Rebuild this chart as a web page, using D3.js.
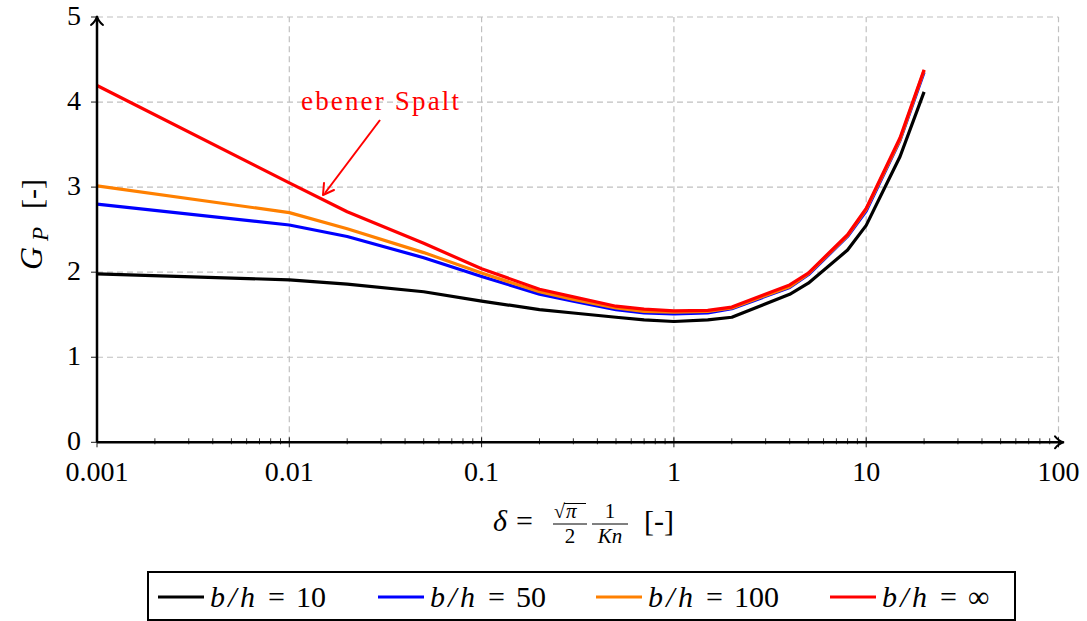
<!DOCTYPE html>
<html>
<head>
<meta charset="utf-8">
<script src="https://cdn.jsdelivr.net/npm/d3@7"></script>
<style>
  body { margin: 0; background: #fff; }
</style>
</head>
<body>
<svg id="chart"></svg>
<script>
// delta values (x) shared by all series
const deltas = [0.001, 0.01, 0.02, 0.05, 0.1, 0.2, 0.3, 0.5, 0.7, 1, 1.5, 2, 4, 5, 8, 10, 15, 20];
const gpB10 = [1.98, 1.91, 1.86, 1.77, 1.66, 1.56, 1.52, 1.47, 1.44, 1.42, 1.44, 1.47, 1.74, 1.87, 2.26, 2.55, 3.36, 4.12];
const gpB50 = [2.80, 2.555, 2.42, 2.17, 1.95, 1.74, 1.66, 1.56, 1.52, 1.51, 1.52, 1.57, 1.82, 1.97, 2.42, 2.72, 3.55, 4.35];
const gpB100 = [3.015, 2.70, 2.51, 2.23, 1.99, 1.77, 1.68, 1.58, 1.54, 1.53, 1.54, 1.58, 1.83, 1.98, 2.43, 2.74, 3.56, 4.37];
const gpInf = [4.195, 3.05, 2.71, 2.34, 2.04, 1.80, 1.71, 1.60, 1.565, 1.545, 1.55, 1.59, 1.85, 1.99, 2.44, 2.75, 3.58, 4.38];

const seriesNames = ["10", "50", "100", "\u221E"];
const seriesColors = ["#000000", "#0000ff", "#ff8000", "#ff0000"];
const seriesValues = [gpB10, gpB50, gpB100, gpInf];

const xTicks = [0.001, 0.01, 0.1, 1, 10, 100];
const xTickLabels = ["0.001", "0.01", "0.1", "1", "10", "100"];
const yTicks = [0, 1, 2, 3, 4, 5];

const width = 1087, height = 621;
const serif = "'Liberation Serif', 'Times New Roman', 'DejaVu Serif', serif";
const svg = d3.select("#chart").attr("width", width).attr("height", height)
    .attr("font-family", serif);

const x = d3.scaleLog().domain([0.001, 100]).range([97, 1058.5]);
const y = d3.scaleLinear().domain([0, 5]).range([442.3, 17]);

// grid
const grid = svg.append("g").attr("stroke", "#c0c0c0").attr("stroke-width", 1.2)
    .attr("stroke-dasharray", "6,4");
grid.selectAll(".gx").data(xTicks.slice(1)).join("line")
    .attr("x1", d => x(d)).attr("x2", d => x(d))
    .attr("y1", y(0)).attr("y2", y(5));
grid.selectAll(".gy").data(yTicks.slice(1)).join("line")
    .attr("x1", x(0.001)).attr("x2", x(100))
    .attr("y1", d => y(d)).attr("y2", d => y(d));

// minor ticks on x axis
const minor = [];
for (let e = -3; e < 2; e++) for (let m = 2; m < 10; m++) minor.push(m * Math.pow(10, e));
svg.append("g").selectAll("line").data(minor).join("line")
    .attr("x1", d => x(d)).attr("x2", d => x(d))
    .attr("y1", y(0) - 4).attr("y2", y(0) + 2)
    .attr("stroke", "#000").attr("stroke-width", 0.8);

// major ticks
svg.append("g").selectAll("line").data(xTicks).join("line")
    .attr("x1", d => x(d)).attr("x2", d => x(d))
    .attr("y1", y(0) - 5).attr("y2", y(0) + 5)
    .attr("stroke", "#000").attr("stroke-width", 0.9);
svg.append("g").selectAll("line").data(yTicks).join("line")
    .attr("x1", x(0.001) - 6).attr("x2", x(0.001))
    .attr("y1", d => y(d)).attr("y2", d => y(d))
    .attr("stroke", "#000").attr("stroke-width", 0.9);

// tick labels
svg.append("g").selectAll("text").data(xTicks).join("text")
    .attr("x", d => x(d)).attr("y", 481)
    .attr("text-anchor", "middle").attr("font-size", 28)
    .text((d, i) => xTickLabels[i]);
svg.append("g").selectAll("text").data(yTicks).join("text")
    .attr("x", 81).attr("y", d => y(d) + 8)
    .attr("text-anchor", "end").attr("font-size", 28)
    .text(d => d);

// data lines
const line = d3.line()
    .x((d, i) => x(deltas[i]))
    .y(d => y(d));
svg.append("g").selectAll("path").data(seriesValues).join("path")
    .attr("d", line)
    .attr("fill", "none")
    .attr("stroke", (d, i) => seriesColors[i])
    .attr("stroke-width", 3.2)
    .attr("stroke-linejoin", "round");

// axes with arrows
const axisG = svg.append("g").attr("stroke", "#000").attr("fill", "none");
axisG.append("line").attr("x1", x(0.001)).attr("x2", 1062)
    .attr("y1", y(0)).attr("y2", y(0)).attr("stroke-width", 2.5);
axisG.append("line").attr("x1", x(0.001)).attr("x2", x(0.001))
    .attr("y1", y(0)).attr("y2", 18).attr("stroke-width", 2.5);
axisG.append("path").attr("d", `M1055,${y(0) - 6} Q1059,${y(0) - 1} 1064,${y(0)} Q1059,${y(0) + 1} 1055,${y(0) + 6}`)
    .attr("stroke-width", 2).attr("stroke-linecap", "round");
axisG.append("path").attr("d", `M${x(0.001) - 6},25 Q${x(0.001) - 1},21 ${x(0.001)},16 Q${x(0.001) + 1},21 ${x(0.001) + 6},25`)
    .attr("stroke-width", 2).attr("stroke-linecap", "round");

// annotation
svg.append("text").attr("x", 301).attr("y", 110)
    .attr("font-size", 27).attr("fill", "#ff0000")
    .attr("textLength", 158).attr("lengthAdjust", "spacing")
    .text("ebener Spalt");
svg.append("line").attr("x1", 380).attr("y1", 120).attr("x2", 325).attr("y2", 193)
    .attr("stroke", "#ff0000").attr("stroke-width", 2);
svg.append("path").attr("d", "M324,183 L323,195 L334,190")
    .attr("stroke", "#ff0000").attr("stroke-width", 2).attr("fill", "none")
    .attr("stroke-linecap", "round").attr("stroke-linejoin", "round");

// y label, G_P [-], rotated
const yl = svg.append("g").attr("transform", "translate(42,272) rotate(-90)");
yl.append("text").attr("x", 2).attr("y", 0).attr("font-size", 32).attr("font-style", "italic").text("G");
yl.append("text").attr("x", 31).attr("y", 6).attr("font-size", 23).attr("font-style", "italic").text("P");
yl.append("text").attr("x", 63).attr("y", 0).attr("font-size", 30).text("[-]");

// x label: delta = sqrt(pi)/2 * 1/Kn [-]
const xl = svg.append("g");
xl.append("text").attr("x", 493).attr("y", 531).attr("font-size", 30).attr("font-style", "italic").text("\u03B4");
xl.append("text").attr("x", 516).attr("y", 531).attr("font-size", 30).text("=");
xl.append("text").attr("x", 554).attr("y", 518).attr("font-size", 20).text("\u221A");
xl.append("line").attr("x1", 564).attr("x2", 586).attr("y1", 503.5).attr("y2", 503.5).attr("stroke", "#000").attr("stroke-width", 1);
xl.append("text").attr("x", 566).attr("y", 518).attr("font-size", 21).attr("font-style", "italic").text("\u03C0");
xl.append("line").attr("x1", 553).attr("x2", 587).attr("y1", 524).attr("y2", 524).attr("stroke", "#000").attr("stroke-width", 1);
xl.append("text").attr("x", 570).attr("y", 543).attr("font-size", 21).attr("text-anchor", "middle").text("2");
xl.append("text").attr("x", 610).attr("y", 518).attr("font-size", 21).attr("text-anchor", "middle").text("1");
xl.append("line").attr("x1", 592).attr("x2", 628).attr("y1", 524).attr("y2", 524).attr("stroke", "#000").attr("stroke-width", 1);
xl.append("text").attr("x", 610).attr("y", 543).attr("font-size", 21).attr("text-anchor", "middle").attr("font-style", "italic").text("Kn");
xl.append("text").attr("x", 644).attr("y", 531).attr("font-size", 30).text("[-]");

// legend
const legend = svg.append("g");
legend.append("rect").attr("x", 148).attr("y", 572).attr("width", 867).attr("height", 48)
    .attr("fill", "#fff").attr("stroke", "#000").attr("stroke-width", 2);
const legendX = [158, 378, 596, 830];
const items = legend.selectAll("g.item").data(seriesNames).join("g")
    .attr("transform", (d, i) => `translate(${legendX[i]},597)`);
items.append("line").attr("x1", 0).attr("x2", 46).attr("y1", 0).attr("y2", 0)
    .attr("stroke", (d, i) => seriesColors[i]).attr("stroke-width", 3.2);
items.append("text").attr("x", 52).attr("y", 10).attr("font-size", 30)
    .attr("font-style", "italic").attr("textLength", 45).attr("lengthAdjust", "spacing")
    .text("b/h");
items.append("text").attr("x", 110).attr("y", 10).attr("font-size", 30).text("=");
items.append("text").attr("x", 138).attr("y", 10).attr("font-size", 30).text(d => d);
</script>
</body>
</html>
